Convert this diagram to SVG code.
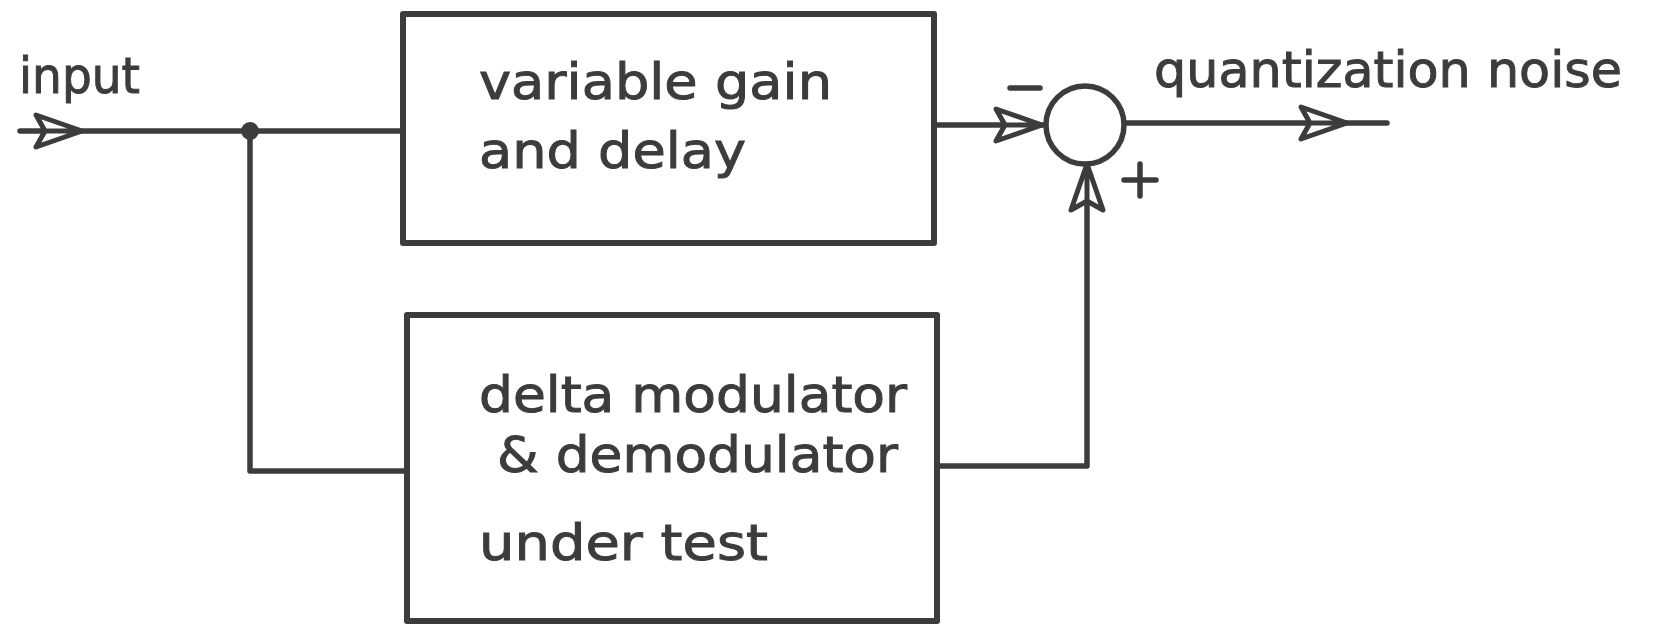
<svg xmlns="http://www.w3.org/2000/svg" width="1657" height="626" viewBox="0 0 1657 626">
<style>
.ln{fill:none;stroke:#3c3c3c;stroke-width:5.5;stroke-linecap:round;stroke-linejoin:round}
.bx{fill:#fff;stroke:#3c3c3c;stroke-width:6;stroke-linejoin:round}
.ah{fill:#fff;stroke:#3c3c3c;stroke-width:5;stroke-linejoin:round}
.t{font-family:"DejaVu Sans",sans-serif;font-size:50px;fill:#3c3c3c;stroke:#3c3c3c;stroke-width:1}
</style>
<defs>
<path id="arr" d="M0,0 L-46,-16 L-37,0 L-46,16 Z M-37,0 L0,0"/>
</defs>
<rect width="1657" height="626" fill="#fff"/>
<g id="connectors">
<path class="ln" d="M20,131 L403,131"/>
<path class="ln" d="M250,131 L250,471 L407,471"/>
<path class="ln" d="M934,125 L1046,125"/>
<path class="ln" d="M1124,123 L1387,123"/>
<path class="ln" d="M937,466 L1087,466 L1087,164"/>
<circle cx="250" cy="131" r="9" fill="#3c3c3c"/>
<use href="#arr" class="ah" transform="translate(82,131)"/>
<use href="#arr" class="ah" transform="translate(1042,125)"/>
<use href="#arr" class="ah" transform="translate(1347,123)"/>
<use href="#arr" class="ah" transform="translate(1087,164) rotate(-90)"/>
</g>
<g id="input-label"><text class="t" x="19" y="93" textLength="121" lengthAdjust="spacingAndGlyphs">input</text></g>
<g id="gain-delay">
<rect class="bx" x="403" y="14" width="531" height="229"/>
<text class="t" x="479" y="99" textLength="353" lengthAdjust="spacingAndGlyphs">variable gain</text>
<text class="t" x="479" y="168" textLength="267" lengthAdjust="spacingAndGlyphs">and delay</text>
</g>
<g id="delta-mod">
<rect class="bx" x="407" y="315" width="530" height="306"/>
<text class="t" x="479" y="412" textLength="428" lengthAdjust="spacingAndGlyphs">delta modulator</text>
<text class="t" x="497" y="472" textLength="401" lengthAdjust="spacingAndGlyphs">&amp; demodulator</text>
<text class="t" x="479" y="560" textLength="289" lengthAdjust="spacingAndGlyphs">under test</text>
</g>
<g id="summer">
<circle cx="1085" cy="125" r="39" fill="#fff" stroke="#3c3c3c" stroke-width="5.5"/>
<path class="ln" d="M1010,88 L1040,88"/>
<path class="ln" d="M1124,180 L1156,180 M1140,164 L1140,196"/>
</g>
<g id="output-label"><text class="t" x="1154" y="87" textLength="468" lengthAdjust="spacingAndGlyphs">quantization noise</text></g>
</svg>
